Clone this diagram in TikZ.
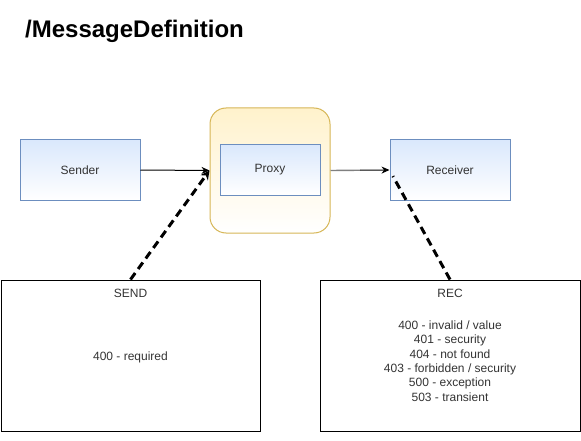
\documentclass[tikz,border=0pt]{standalone}
\usepackage{fontspec}
\setmainfont{Liberation Sans}
\usepackage{tikz}
\usetikzlibrary{arrows.meta,positioning,calc}
\definecolor{bluefill}{HTML}{DAE8FC}
\definecolor{blueline}{HTML}{6C8EBF}
\definecolor{yellowfill}{HTML}{FFF2CC}
\definecolor{yellowline}{HTML}{D6B656}
\definecolor{textgray}{HTML}{333333}

\begin{document}
\begin{tikzpicture}[x=1pt, y=-1pt,
  every node/.style={font=\fontsize{12}{14.4}\selectfont, text=textgray, inner sep=0pt},
  bluebox/.style={draw=blueline, line width=1pt, top color=bluefill, bottom color=white,
    minimum width=#1, minimum height=60pt},
  bluebox/.default=120pt,
  notebox/.style={draw=black, line width=1pt, minimum width=259pt, minimum height=151pt},
  link/.style={line width=1pt, -{Stealth[length=8pt, width=7pt]}},
  dashlink/.style={line width=3pt, dash pattern=on 8pt off 5pt}]
\useasboundingbox (0,0) rectangle (581,441);
\node[anchor=base west, font=\fontsize{24}{28}\selectfont\bfseries, text=black] (title) at (25,37.5) {/MessageDefinition};
\node[bluebox] (sender) at (80,170) {Sender};
\node[draw=yellowline, line width=1pt, rounded corners=16pt, top color=yellowfill, bottom color=white,
  minimum width=120pt, minimum height=125pt] (proxybox) at (270,170.5) {};
\node[bluebox=100pt, minimum height=50pt] (proxy) at (270,170) {Proxy};
\node[bluebox] (receiver) at (450,170) {Receiver};
\node[notebox] (sendbox) at (130.5,355.5) {};
\node[notebox, minimum width=260pt] (recbox) at (450,355.5) {};
\node (sendhead) at ([yshift=-14pt]sendbox.north) {SEND};
\node (sendcodes) at ([yshift=-2pt]sendbox.center) {400 - required};
\node (rechead) at ([yshift=-14pt]recbox.north) {REC};
\node[align=center] (reccodes) at ([yshift=-5.5pt]recbox.center) {400 - invalid / value\\401 - security\\404 - not found\\403 - forbidden / security\\500 - exception\\503 - transient};
\draw[link] (sender.east) -- (proxybox.west);
\coordinate (pmid) at ($(proxybox.east)!0.5!(receiver.west)$);
\draw[gray, line width=1.4pt] (proxybox.east) -- (pmid);
\draw[link] (pmid) -- (receiver.west);
\draw[dashlink, -{Stealth[length=9pt, width=9pt, open]}] (sendbox.north) -- (proxybox.west);
\draw[dashlink, shorten >=7pt] (recbox.north) -- (receiver.west);
\end{tikzpicture}
\end{document}
